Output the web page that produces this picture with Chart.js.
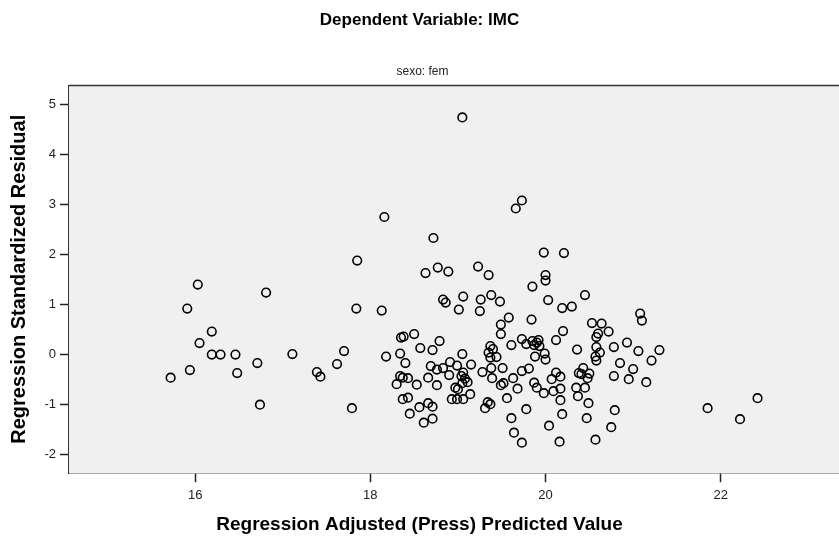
<!DOCTYPE html>
<html>
<head>
<meta charset="utf-8">
<title>Dependent Variable: IMC</title>
<script src="https://cdn.jsdelivr.net/npm/chart.js@4.4.1/dist/chart.umd.min.js"></script>
<style>
  html, body { margin: 0; padding: 0; background: #fff; overflow: hidden; }
</style>
</head>
<body>
<canvas id="residualChart" width="839" height="543"></canvas>
<script>
// Sample Data
let predicted = [
    15.72, 15.91, 15.94, 16.03, 16.05, 16.19, 16.19, 16.29, 16.46, 16.48,
    16.71, 16.74, 16.81, 17.11, 17.39, 17.43, 17.62, 17.70, 17.79, 17.84,
    17.85, 18.13, 18.16, 18.18,
    18.35, 18.38, 18.50, 18.34, 18.40, 18.57, 18.71, 18.79, 18.69, 18.76,
    18.83, 18.91, 18.99, 19.05, 19.15, 18.90, 19.04, 19.06, 19.08, 19.05,
    19.11, 18.97, 19.00, 19.14, 18.93, 18.99, 19.06, 18.66, 18.76, 18.34,
    18.37, 18.43, 18.30, 18.53, 18.37, 18.43, 18.56, 18.45, 18.66, 18.71,
    18.61, 18.71,
    18.72, 18.63, 18.77, 18.89, 19.23, 19.35, 19.05, 19.66, 19.73, 19.98,
    20.00, 20.00, 19.85, 20.21, 20.03, 18.83, 18.86, 19.06, 19.01, 19.26,
    19.25, 19.38, 19.48, 19.58, 19.49, 19.49, 19.61, 19.84, 19.73, 19.78,
    19.85, 19.87, 19.90, 19.93, 19.92, 19.99, 20.00, 19.88, 20.12, 19.37,
    19.40, 19.35, 19.37, 19.44, 19.28, 19.38, 19.39, 19.51, 19.49, 19.52,
    19.63, 19.68, 19.56, 19.73, 19.81, 19.31, 19.37, 19.34, 19.61, 19.64,
    19.73, 19.78, 19.87, 19.90, 19.98, 20.07, 20.12, 20.17, 20.09, 20.17,
    20.17, 20.04, 20.16, 20.19,
    20.19, 20.30, 20.45, 20.53, 20.64, 20.72, 20.60, 20.58, 20.20, 20.36,
    20.58, 20.62, 20.57, 20.58, 20.78, 20.93, 21.06, 21.08, 21.10, 21.30,
    21.21, 20.85, 21.00, 20.95, 21.15, 20.78, 20.38, 20.41, 20.43, 20.50,
    20.48, 20.35, 20.45, 20.37, 20.49, 20.47, 20.79, 20.75, 20.57, 21.85,
    22.22, 22.42
];
let residual = [
    -0.46, 0.92, -0.31, 1.40, 0.23, 0.46, 0.00, 0.00, 0.00, -0.37,
    -0.17, -1.00, 1.24, 0.01, -0.35, -0.44, -0.19, 0.07, -1.07, 0.92,
    1.88, 0.88, 2.75, -0.04,
    0.34, 0.36, 0.41, 0.02, -0.17, 0.13, 0.09, 0.27, -0.23, -0.30,
    -0.27, -0.15, -0.22, 0.01, -0.20, -0.41, -0.43, -0.36, -0.48, -0.57,
    -0.55, -0.66, -0.69, -0.79, -0.89, -0.89, -0.89, -0.46, -0.61, -0.43,
    -0.46, -0.47, -0.59, -0.60, -0.89, -0.86, -1.05, -1.18, -0.97, -1.04,
    -1.36, -1.28,
    2.33, 1.63, 1.74, 1.66, 1.76, 1.59, 4.74, 2.92, 3.08, 2.04,
    1.59, 1.48, 1.36, 2.03, 1.09, 1.10, 1.04, 1.16, 0.90, 1.10,
    0.87, 1.19, 1.06, 0.74, 0.60, 0.41, 0.19, 0.70, 0.31, 0.21,
    0.27, 0.19, 0.24, 0.17, 0.29, 0.02, -0.10, -0.04, 0.29, 0.17,
    0.11, 0.04, -0.06, -0.05, -0.35, -0.27, -0.47, -0.27, -0.61, -0.57,
    -0.47, -0.68, -0.87, -0.33, -0.28, -1.07, -0.99, -0.95, -1.27, -1.56,
    -1.76, -1.09, -0.56, -0.66, -0.77, -0.49, -0.36, -0.44, -0.73, -0.68,
    -0.91, -1.42, -1.74, -1.19,
    0.93, 0.96, 1.19, 0.63, 0.62, 0.46, 0.42, 0.35, 0.47, 0.10,
    0.15, 0.04, -0.04, -0.12, 0.15, 0.24, 0.07, 0.82, 0.68, 0.09,
    -0.12, -0.17, -0.29, -0.49, -0.55, -0.43, -0.37, -0.39, -0.27, -0.38,
    -0.47, -0.66, -0.66, -0.83, -0.97, -1.27, -1.11, -1.45, -1.70, -1.07,
    -1.29, -0.87
];
let xTicks = [16, 18, 20, 22];
let yTicks = [-2, -1, 0, 1, 2, 3, 4, 5];

let chartTitle = "Dependent Variable: IMC";
let panelLabel = "sexo: fem";
let xTitle = "Regression Adjusted (Press) Predicted Value";
let yTitle = "Regression Standardized Residual";

let points = predicted.map((x, i) => ({ x: x, y: residual[i] }));

// grey plot panel with its frame and the panel label above it
const panelPlugin = {
    id: 'panel',
    beforeDatasetsDraw(chart) {
        const { ctx, chartArea } = chart;
        ctx.save();
        ctx.fillStyle = '#f0f0f0';
        ctx.fillRect(chartArea.left, chartArea.top, chartArea.right - chartArea.left, chartArea.bottom - chartArea.top);
        ctx.strokeStyle = '#333';
        ctx.lineWidth = 1.5;
        ctx.beginPath();
        ctx.moveTo(chartArea.left, chartArea.top);
        ctx.lineTo(chartArea.right, chartArea.top);
        ctx.stroke();
        ctx.fillStyle = '#222';
        ctx.font = '12px "Liberation Sans", Arial, sans-serif';
        ctx.textAlign = 'center';
        ctx.textBaseline = 'middle';
        ctx.fillText(panelLabel, chart.width / 2 + 3, chartArea.top - 14);
        ctx.restore();
    }
};

Chart.defaults.font.family = '"Liberation Sans", Arial, sans-serif';
Chart.defaults.color = '#222';

function generateResidualChart() {
    let ctx = document.getElementById('residualChart').getContext('2d');
    new Chart(ctx, {
        type: 'scatter',
        data: {
            datasets: [{
                label: "Residual",
                data: points,
                pointStyle: 'circle',
                pointRadius: 4.3,
                pointBorderWidth: 1.6,
                borderColor: '#000',
                backgroundColor: 'rgba(0,0,0,0)'
            }]
        },
        options: {
            responsive: false,
            animation: false,
            layout: { autoPadding: false, padding: 0 },
            plugins: {
                legend: { display: false },
                tooltip: { enabled: false },
                title: {
                    display: true,
                    text: chartTitle,
                    color: '#000',
                    font: { size: 17, weight: 'bold' },
                    padding: { top: 10, bottom: 55 }
                },
                subtitle: {
                    display: true,
                    position: 'bottom',
                    text: xTitle,
                    color: '#000',
                    font: { size: 19, weight: 'bold' },
                    padding: { top: 0, bottom: 7 }
                }
            },
            scales: {
                x: {
                    type: 'linear',
                    min: 14.56,
                    max: 23.35,
                    afterBuildTicks: (scale) => { scale.ticks = xTicks.map(v => ({ value: v })); },
                    afterFit: (scale) => {
                        scale.height = 40;
                        scale.paddingLeft = 0;
                        scale.paddingRight = 0;
                    },
                    grid: {
                        drawOnChartArea: false,
                        drawTicks: true,
                        tickLength: 9,
                        tickColor: '#222',
                        tickWidth: 1.5
                    },
                    border: { display: true, color: '#333', width: 1.5 },
                    ticks: { font: { size: 13 }, padding: 5, maxRotation: 0 }
                },
                y: {
                    type: 'linear',
                    min: -2.37,
                    max: 5.38,
                    afterBuildTicks: (scale) => { scale.ticks = yTicks.map(v => ({ value: v })); },
                    afterFit: (scale) => { scale.width = 69; },
                    grid: {
                        drawOnChartArea: false,
                        drawTicks: true,
                        tickLength: 9,
                        tickColor: '#222',
                        tickWidth: 1.5
                    },
                    border: { display: true, color: '#333', width: 1.5 },
                    ticks: { font: { size: 13 }, padding: 4 },
                    title: {
                        display: true,
                        text: yTitle,
                        color: '#000',
                        font: { size: 20, weight: 'bold' },
                        padding: { top: 7, bottom: 0 }
                    }
                }
            }
        },
        plugins: [panelPlugin]
    });
}

generateResidualChart();
</script>
</body>
</html>
